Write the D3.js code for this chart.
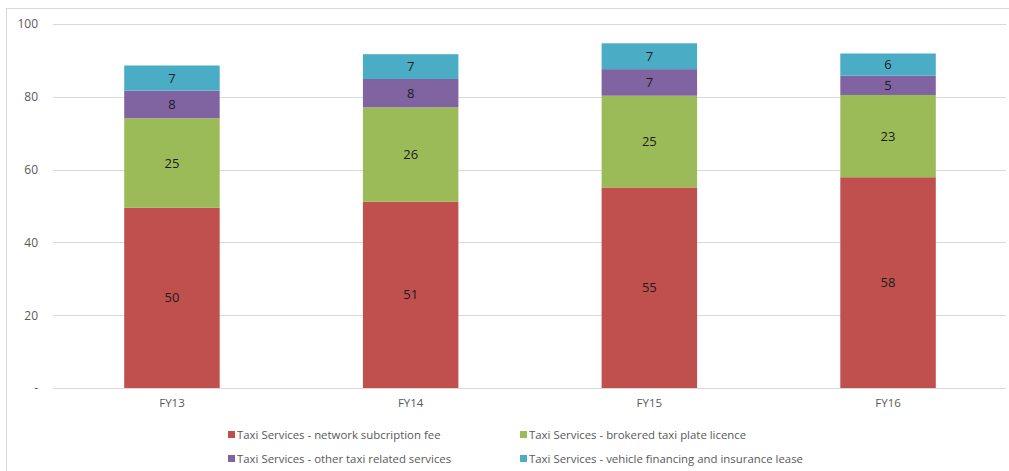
<!DOCTYPE html>
<html><head><meta charset="utf-8">
<script src="https://cdn.jsdelivr.net/npm/d3@7"></script>
<style>body{margin:0;background:#fff;} svg{display:block;font-family:"Open Sans","Liberation Sans",sans-serif;}</style>
</head><body>
<svg id="c" width="1009" height="471"></svg>
<script>
const categories = ["FY13","FY14","FY15","FY16"];
const seriesNames = [
  "Taxi Services - network subcription fee",
  "Taxi Services - brokered taxi plate licence",
  "Taxi Services - other taxi related services",
  "Taxi Services - vehicle financing and insurance lease"
];
const networkFee = [49.5, 51.2, 55.1, 57.9];
const platelicence = [24.6, 25.9, 25.2, 22.6];
const otherServices = [7.6, 7.8, 7.3, 5.3];
const vehicleFinancing = [6.9, 6.8, 7.1, 6.1];
const yTicks = [0, 20, 40, 60, 80, 100];
const yTickLabels = ["-", "20", "40", "60", "80", "100"];
const colors = ["#C0504D", "#9BBB59", "#8064A2", "#4BACC6"];

const seriesValues = [networkFee, platelicence, otherServices, vehicleFinancing];
const rows = categories.map((c, i) => {
  const r = {cat: c};
  seriesNames.forEach((s, j) => r[s] = seriesValues[j][i]);
  return r;
});

const svg = d3.select("#c");
svg.append("rect").attr("x", 6.5).attr("y", 8.5).attr("width", 1100).attr("height", 1000)
  .attr("fill", "none").attr("stroke", "#d9d9d9");

const x = d3.scaleBand().domain(categories).range([52.6, 1007.4]).paddingInner(0.6).paddingOuter(0.3);
const y = d3.scaleLinear().domain([0, 100]).range([388, 24]);

// gridlines
svg.append("g").selectAll("line").data(yTicks).join("line")
  .attr("x1", 53).attr("x2", 1006)
  .attr("y1", d => Math.round(y(d)) + 0.5).attr("y2", d => Math.round(y(d)) + 0.5)
  .attr("stroke", "#d9d9d9").attr("stroke-width", 1);

// y axis labels
const yAxis = d3.axisLeft(y).tickValues(yTicks).tickSize(0).tickPadding(0)
  .tickFormat((d, i) => yTickLabels[i]);
const ya = svg.append("g").attr("transform", "translate(38,0)").call(yAxis);
ya.select(".domain").remove();
ya.selectAll("text").attr("fill", "#595959").style("font-size", "12px")
  .style("font-family", "'Open Sans','Liberation Sans',sans-serif");

// x axis labels
const xAxis = d3.axisBottom(x).tickSize(0).tickPadding(0);
const xa = svg.append("g").attr("transform", "translate(0,399)").call(xAxis);
xa.select(".domain").remove();
xa.selectAll("text").attr("fill", "#595959").style("font-size", "11.5px")
  .style("font-family", "'Open Sans','Liberation Sans',sans-serif");

const stack = d3.stack().keys(seriesNames);
const stacked = stack(rows);
const fmt = d3.format(".0f");

const layers = svg.append("g").selectAll("g").data(stacked).join("g")
  .attr("fill", (d, i) => colors[i]);
layers.selectAll("rect").data(d => d).join("rect")
  .attr("x", d => x(d.data.cat))
  .attr("width", x.bandwidth())
  .attr("y", d => y(d[1]))
  .attr("height", d => y(d[0]) - y(d[1]));

const labels = svg.append("g").selectAll("g").data(stacked).join("g");
labels.selectAll("text").data(d => d.map(p => ({p, key: d.key}))).join("text")
  .attr("x", d => x(d.p.data.cat) + x.bandwidth() / 2)
  .attr("y", d => (y(d.p[0]) + y(d.p[1])) / 2)
  .attr("dy", "0.35em")
  .attr("text-anchor", "middle")
  .attr("fill", "#1c1c1c")
  .style("font-size", "13px")
  .text(d => fmt(d.p[1] - d.p[0]));

// legend
const legendPos = [[228, 435], [520, 435], [228, 459], [520, 459]];
const lg = svg.append("g").selectAll("g").data(seriesNames).join("g")
  .attr("transform", (d, i) => `translate(${legendPos[i][0]},${legendPos[i][1]})`);
lg.append("rect").attr("x", 0).attr("y", -4).attr("width", 7).attr("height", 7)
  .attr("fill", (d, i) => colors[i]);
lg.append("text").attr("x", 9).attr("y", 0).attr("dy", "0.35em")
  .attr("fill", "#595959").style("font-size", "11.4px").text(d => d);
</script>
</body></html>
